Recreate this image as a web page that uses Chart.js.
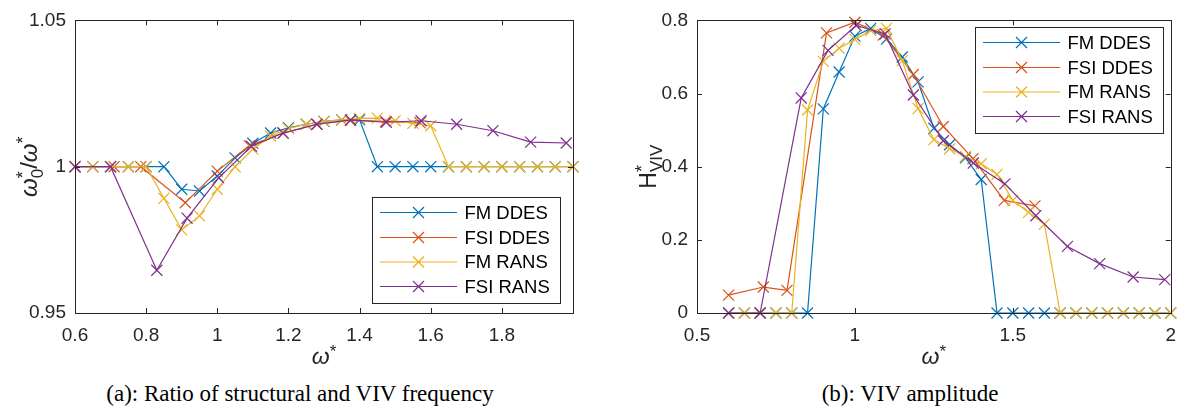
<!DOCTYPE html>
<html>
<head>
<meta charset="utf-8">
<script src="https://cdn.jsdelivr.net/npm/chart.js@4.4.1/dist/chart.umd.min.js"></script>
<style>
  body { margin: 0; background: #fff; }
  #page { position: relative; width: 1187px; height: 416px; overflow: hidden; }
  canvas { position: absolute; top: 0; }
  #freqChart { left: 0; }
  #ampChart { left: 595px; }
  .caption { position: absolute; top: 381px; font-family: "Liberation Serif", "Times New Roman", serif; font-size: 23px; color: #000; text-align: center; }
</style>
</head>
<body>
<div id="page">
  <canvas id="freqChart" width="595" height="375"></canvas>
  <canvas id="ampChart" width="592" height="375"></canvas>
  <div class="caption" style="left:0;width:600px">(a): Ratio of structural and VIV frequency</div>
  <div class="caption" style="left:620px;width:580px">(b): VIV amplitude</div>
</div>
<script>
// reduced frequency grids
const omegaGrid = [0.6, 0.65, 0.7, 0.75, 0.8, 0.85, 0.9, 0.95, 1, 1.05, 1.1, 1.15, 1.2, 1.25, 1.3,
  1.35, 1.4, 1.45, 1.5, 1.55, 1.6, 1.65, 1.7, 1.75, 1.8, 1.85, 1.9, 1.95, 2];
const omegaFsiDdes = [0.6, 0.71, 0.785, 0.91, 1.0, 1.09, 1.185, 1.28, 1.374, 1.473, 1.57];
const omegaFsiRans = [0.6, 0.7, 0.83, 0.915, 1.004, 1.096, 1.185, 1.28, 1.375, 1.475, 1.573,
  1.673, 1.775, 1.881, 1.981];

const seriesNames = ["FM DDES", "FSI DDES", "FM RANS", "FSI RANS"];
const seriesColors = ["#0072BD", "#D95319", "#EDB120", "#7E2F8E"];

// frequency ratio omega0*/omega*
const fmDdesRatio = [1, 1, 1, 1, 1, 1, 0.9923, 0.9917, 0.9968, 1.003, 1.008, 1.0115, 1.0133, 1.0145,
  1.0155, 1.016, 1.016, 1, 1, 1, 1, 1, 1, 1, 1, 1, 1, 1, 1];
const fsiDdesRatio = [1, 1, 1, 0.9877, 0.9985, 1.0072, 1.0115, 1.0145, 1.0158, 1.0155, 1.015];
const fmRansRatio = [1, 1, 1, 1, 1, 0.9892, 0.9784, 0.9832, 0.9923, 1.0, 1.006, 1.0105, 1.013, 1.0145,
  1.0155, 1.016, 1.0165, 1.0166, 1.0157, 1.0148, 1.014, 1, 1, 1, 1, 1, 1, 1, 1];
const fsiRansRatio = [1, 1, 0.9646, 0.9824, 0.9962, 1.007, 1.0115, 1.0145, 1.016, 1.0152, 1.0157,
  1.0145, 1.0123, 1.0084, 1.0081];

// VIV amplitude H*
const fmDdesAmp = [0, 0, 0, 0, 0, 0, 0.558, 0.659, 0.757, 0.778, 0.749, 0.70, 0.632, 0.505, 0.46,
  0.424, 0.365, 0, 0, 0, 0, 0, 0, 0, 0, 0, 0, 0, 0];
const fsiDdesAmp = [0.049, 0.071, 0.062, 0.766, 0.795, 0.76, 0.652, 0.51, 0.422, 0.308, 0.293];
const fmRansAmp = [0, 0, 0, 0, 0, 0.555, 0.688, 0.724, 0.748, 0.772, 0.778, 0.69, 0.559, 0.474, 0.449,
  0.428, 0.408, 0.379, 0.308, 0.275, 0.243, 0, 0, 0, 0, 0, 0, 0, 0];
const fsiRansAmp = [0, 0, 0.588, 0.718, 0.786, 0.763, 0.596, 0.471, 0.410, 0.353, 0.266, 0.182,
  0.135, 0.0985, 0.0914];

const ratioXTicks = [0.6, 0.8, 1, 1.2, 1.4, 1.6, 1.8];
const ratioYTicks = [0.95, 1, 1.05];
const ampXTicks = [0.5, 1, 1.5, 2];
const ampYTicks = [0, 0.2, 0.4, 0.6, 0.8];

const inkColor = "#262626";
const tickFont = { family: "'Liberation Sans', Arial, sans-serif", size: 19 };

function pts(xs, ys) {
  return xs.map((x, i) => ({ x: x, y: ys[i] }));
}

function makeDatasets(values) {
  const xs = [omegaGrid, omegaFsiDdes, omegaGrid, omegaFsiRans];
  return values.map((ys, i) => ({
    label: seriesNames[i],
    data: pts(xs[i], ys),
    borderColor: seriesColors[i],
    backgroundColor: seriesColors[i],
    borderWidth: 1.2,
    pointStyle: "crossRot",
    pointRadius: 7.8,
    pointBorderWidth: 1.2,
    pointBorderColor: seriesColors[i],
    tension: 0,
    fill: false,
    clip: false,
    order: 4 - i   // later series on top, like matlab
  }));
}

// draw a run of text pieces (with super/subscripts) centred on 0,0 of current transform
function drawRich(ctx, parts) {
  const font = p => (p.italic ? "italic " : "") + p.size + "px 'Liberation Sans', Arial, sans-serif";
  let total = 0;
  parts.forEach(p => {
    ctx.font = font(p);
    p.w = ctx.measureText(p.t).width;
    if (!p.keep) total += p.w;
  });
  let x = -total / 2;
  ctx.textBaseline = "alphabetic";
  ctx.textAlign = "left";
  parts.forEach(p => {
    ctx.font = font(p);
    ctx.fillText(p.t, x, 8 + (p.dy || 0));
    if (!p.keep) x += p.w;
  });
}

const frameAndLegend = {
  id: "frameAndLegend",
  afterDraw(chart) {
    const opts = chart.options.plugins.frameAndLegend;
    const { ctx, chartArea: a, scales } = chart;
    ctx.save();
    ctx.strokeStyle = inkColor;
    ctx.lineWidth = 1;
    ctx.strokeRect(Math.round(a.left) + 0.5, Math.round(a.top) + 0.5,
      Math.round(a.width), Math.round(a.height));
    // inward tick marks on all four sides
    ctx.beginPath();
    scales.x.ticks.forEach(t => {
      const px = Math.round(scales.x.getPixelForValue(t.value)) + 0.5;
      ctx.moveTo(px, a.bottom); ctx.lineTo(px, a.bottom - 5);
      ctx.moveTo(px, a.top); ctx.lineTo(px, a.top + 5);
    });
    scales.y.ticks.forEach(t => {
      const py = Math.round(scales.y.getPixelForValue(t.value)) + 0.5;
      ctx.moveTo(a.left, py); ctx.lineTo(a.left + 5, py);
      ctx.moveTo(a.right, py); ctx.lineTo(a.right - 5, py);
    });
    ctx.stroke();

    // axis titles
    ctx.fillStyle = inkColor;
    ctx.save();
    ctx.translate((a.left + a.right) / 2, opts.xTitleY);
    drawRich(ctx, [{ t: "ω", size: 23, italic: true }, { t: "*", size: 17, dy: -7 }]);
    ctx.restore();
    ctx.save();
    ctx.translate(opts.yTitleX, (a.top + a.bottom) / 2);
    ctx.rotate(-Math.PI / 2);
    drawRich(ctx, opts.yTitle);
    ctx.restore();

    // legend box
    const L = opts.legend;
    ctx.fillStyle = "#fff";
    ctx.fillRect(L.x, L.y, 188, 106);
    ctx.strokeStyle = inkColor;
    ctx.strokeRect(L.x + 0.5, L.y + 0.5, 188, 106);
    const rows = [15.5, 40.5, 65, 89.5];
    chart.data.datasets.forEach((ds, i) => {
      const cy = L.y + rows[i];
      ctx.strokeStyle = ds.borderColor;
      ctx.lineWidth = 1.2;
      ctx.beginPath();
      ctx.moveTo(L.x + 8, cy); ctx.lineTo(L.x + 85, cy);
      const mx = L.x + 46.5, r = 5.5;
      ctx.moveTo(mx - r, cy - r); ctx.lineTo(mx + r, cy + r);
      ctx.moveTo(mx - r, cy + r); ctx.lineTo(mx + r, cy - r);
      ctx.stroke();
      ctx.fillStyle = "#000";
      ctx.font = "18.5px 'Liberation Sans', Arial, sans-serif";
      ctx.textBaseline = "middle";
      ctx.textAlign = "left";
      ctx.fillText(ds.label, L.x + 92.5, cy + 1);
    });
    ctx.restore();
  }
};

function makeChart(canvasId, values, cfg) {
  return new Chart(document.getElementById(canvasId), {
    type: "line",
    data: { datasets: makeDatasets(values) },
    options: {
      responsive: false,
      animation: false,
      events: [],
      layout: { padding: { top: 18, right: cfg.padRight, left: 0, bottom: 0 } },
      plugins: {
        legend: { display: false },
        tooltip: { enabled: false },
        frameAndLegend: { legend: cfg.legend, yTitle: cfg.yTitle, yTitleX: cfg.yTitleX, xTitleY: 356 }
      },
      scales: {
        x: {
          type: "linear",
          min: cfg.xMin, max: 2,
          grid: { display: false, drawTicks: false },
          border: { display: false },
          afterBuildTicks: axis => { axis.ticks = cfg.xTicks.map(v => ({ value: v })); },
          afterFit: axis => { axis.height = 62; },
          ticks: { font: tickFont, color: inkColor, padding: 11, autoSkip: false, maxRotation: 0,
            callback: v => String(v) }
        },
        y: {
          type: "linear",
          min: cfg.yMin, max: cfg.yMax,
          grid: { display: false, drawTicks: false },
          border: { display: false },
          afterBuildTicks: axis => { axis.ticks = cfg.yTicks.map(v => ({ value: v })); },
          afterFit: axis => { axis.width = cfg.yWidth; },
          ticks: { font: tickFont, color: inkColor, padding: 9, callback: v => String(v) }
        }
      }
    },
    plugins: [frameAndLegend]
  });
}

makeChart("freqChart", [fmDdesRatio, fsiDdesRatio, fmRansRatio, fsiRansRatio], {
  xMin: 0.6, yMin: 0.95, yMax: 1.05,
  xTicks: ratioXTicks, yTicks: ratioYTicks,
  yWidth: 75, padRight: 22,
  legend: { x: 372, y: 197 },
  yTitleX: 29,
  yTitle: [
    { t: "ω", size: 24, italic: true }, { t: "*", size: 18, dy: -8, keep: true },
    { t: "0", size: 17, dy: 6 }, { t: "/", size: 24 },
    { t: "ω", size: 24, italic: true }, { t: "*", size: 18, dy: -8 }
  ]
});

makeChart("ampChart", [fmDdesAmp, fsiDdesAmp, fmRansAmp, fsiRansAmp], {
  xMin: 0.5, yMin: 0, yMax: 0.8,
  xTicks: ampXTicks, yTicks: ampYTicks,
  yWidth: 102, padRight: 11,
  legend: { x: 380, y: 27 },
  yTitleX: 53,
  yTitle: [
    { t: "H", size: 23 }, { t: "*", size: 18, dy: -8, keep: true },
    { t: "VIV", size: 17, dy: 6 }
  ]
});
</script>
</body>
</html>
